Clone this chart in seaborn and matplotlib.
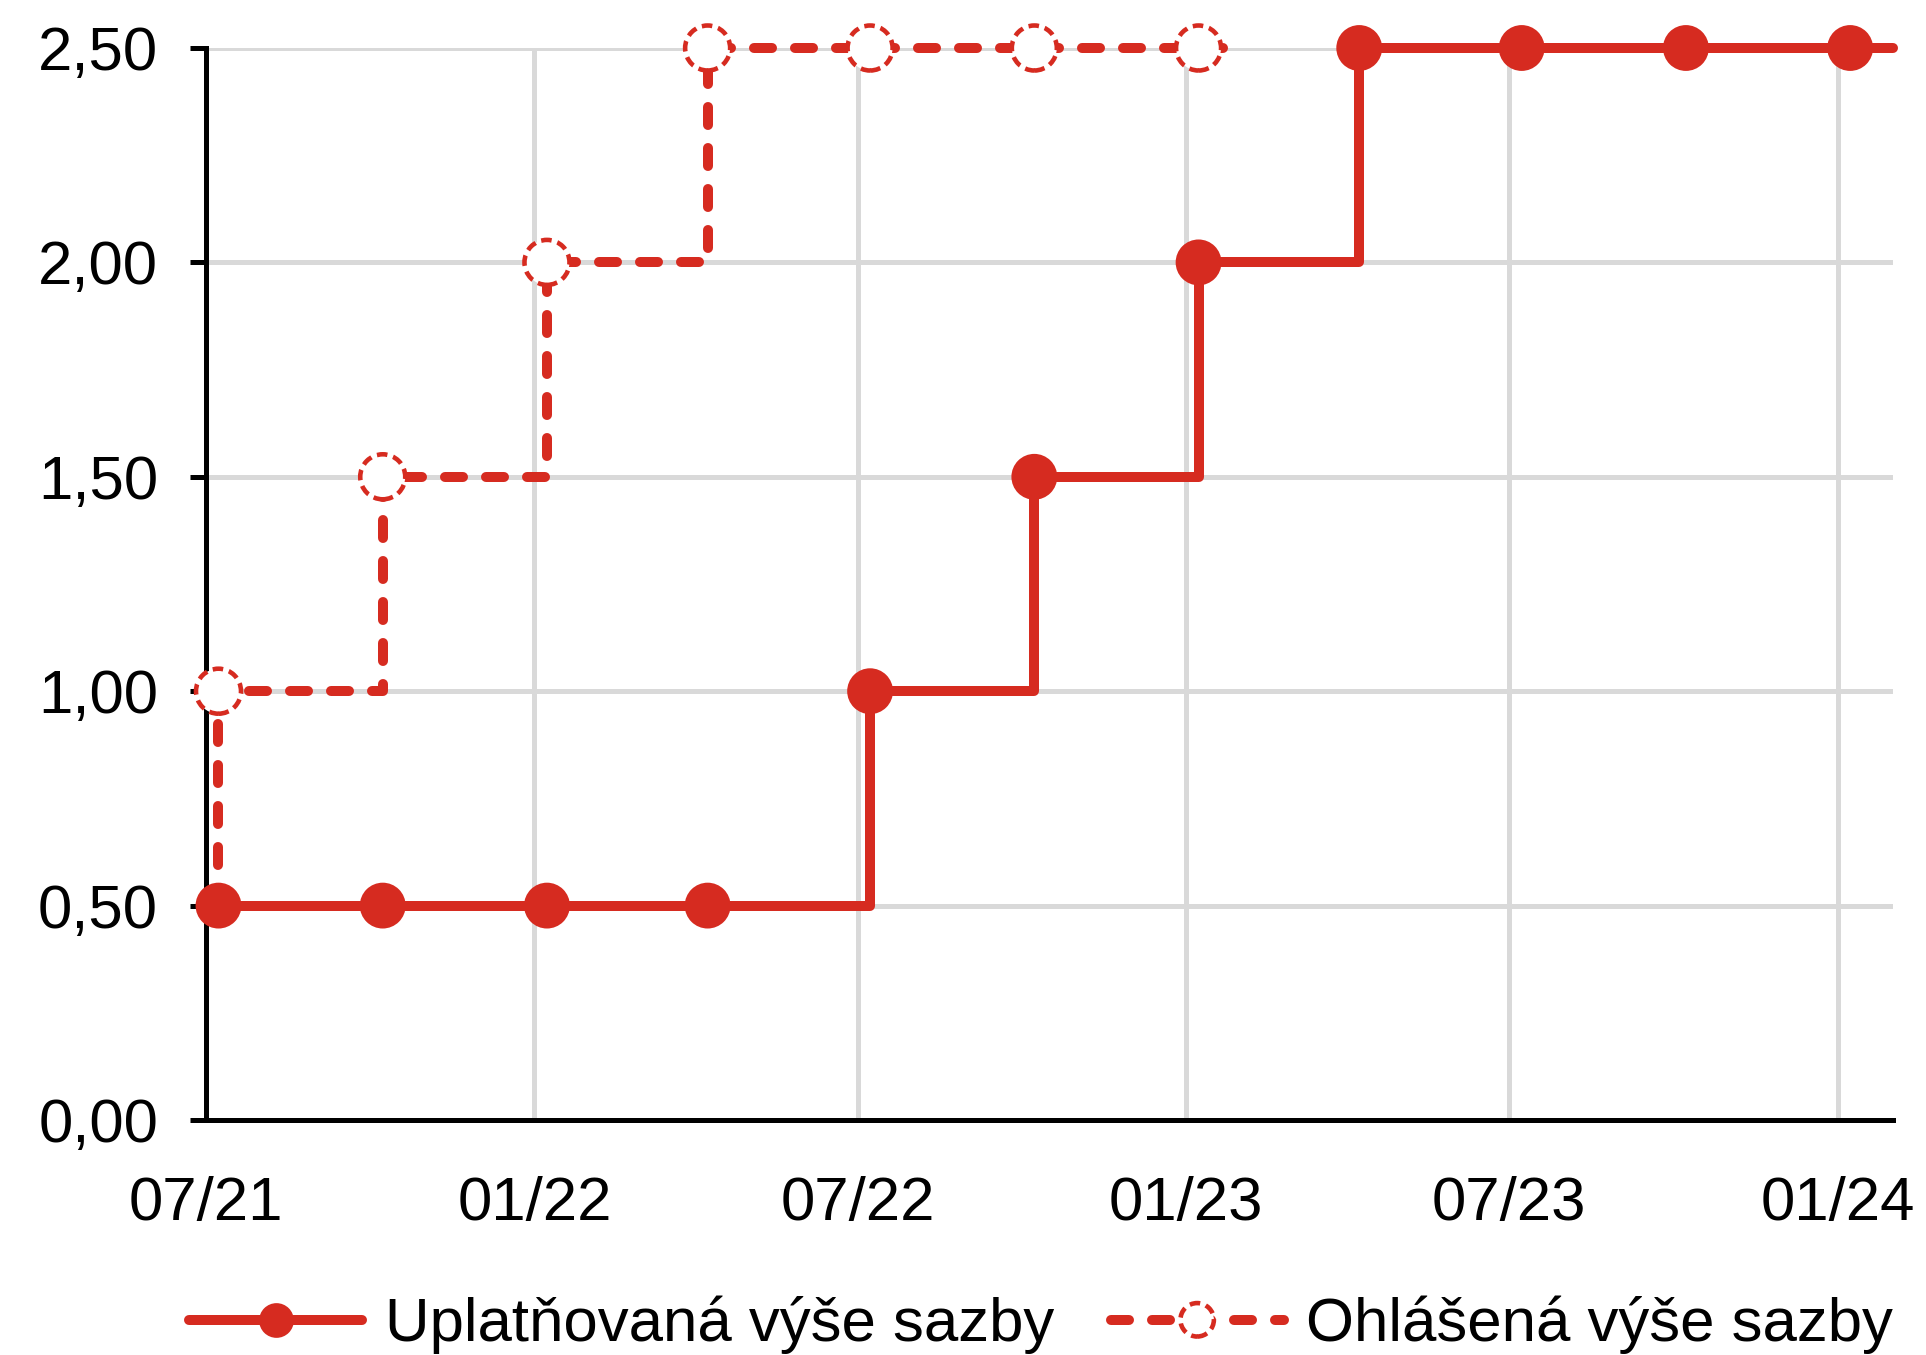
import numpy as np
import pandas as pd
import matplotlib
matplotlib.use("Agg")
import matplotlib.pyplot as plt
import matplotlib.dates as mdates
from matplotlib.lines import Line2D
from matplotlib.legend_handler import HandlerPathCollection
from matplotlib.ticker import FuncFormatter
import seaborn as sns

# Quarterly observation dates
dates = ["2021-07-08", "2021-10-08", "2022-01-08", "2022-04-08",
         "2022-07-08", "2022-10-08", "2023-01-08", "2023-04-08",
         "2023-07-08", "2023-10-08", "2024-01-08"]
# Applied countercyclical buffer rate (%)
applied_rate = [0.50, 0.50, 0.50, 0.50, 1.00, 1.50, 2.00, 2.50, 2.50, 2.50, 2.50]
# Announced rate (%)
announced_dates = dates[:7]
announced_rate = [1.00, 1.50, 2.00, 2.50, 2.50, 2.50, 2.50]
rate_before_announcement = 0.50
announced_until = "2023-02-01"
applied_until = "2024-02-01"

series_labels = ["Uplatňovaná výše sazby", "Ohlášená výše sazby"]
xtick_dates = ["2021-07-01", "2022-01-01", "2022-07-01",
               "2023-01-01", "2023-07-01", "2024-01-01"]
yticks = [0.0, 0.5, 1.0, 1.5, 2.0, 2.5]
x_range = ["2021-07-01", "2024-02-01"]

RED = "#D62B20"
GRID = "#D9D9D9"
LW = 7.2
DASH = (0, (1.8, 2.3))
FS = 44.5

sns.set_style("white")
plt.rcParams["font.family"] = ["Liberation Sans", "DejaVu Sans"]
plt.rcParams["text.color"] = "black"

fig = plt.figure(figsize=(19.26, 13.55), dpi=100)
ax = fig.add_axes([206 / 1926, 1 - 1120 / 1355, (1893 - 206) / 1926, (1120 - 48) / 1355])

# step lines (value holds until the next date)
applied_line = pd.DataFrame({
    "date": pd.to_datetime(dates + [applied_until]),
    "rate": applied_rate + [applied_rate[-1]],
})
announced_line = pd.DataFrame({
    "date": pd.to_datetime([announced_dates[0]] + announced_dates + [announced_until]),
    "rate": [rate_before_announcement] + announced_rate + [announced_rate[-1]],
})

sns.lineplot(data=applied_line, x="date", y="rate", estimator=None, sort=False,
             drawstyle="steps-post", color=RED, linewidth=LW, zorder=4,
             clip_on=False, ax=ax)
sns.lineplot(data=announced_line, x="date", y="rate", estimator=None, sort=False,
             drawstyle="steps-post", color=RED, linewidth=LW, linestyle=DASH,
             dash_capstyle="round", zorder=4, clip_on=False, ax=ax)

# markers
sns.scatterplot(x=pd.to_datetime(dates), y=applied_rate, s=1089, color=RED,
                edgecolor="none", linewidth=0, zorder=5, clip_on=False,
                legend=False, ax=ax)
sns.scatterplot(x=pd.to_datetime(announced_dates), y=announced_rate, s=1050,
                color="white", edgecolor=RED, linewidth=3.3,
                linestyle=(0, (2.3, 1.3)), zorder=5, clip_on=False,
                legend=False, ax=ax)
hollow = ax.collections[-1]

ax.set_xlim(pd.to_datetime(x_range[0]), pd.to_datetime(x_range[1]))
ax.set_ylim(0, 2.5)
ax.set_xticks(pd.to_datetime(xtick_dates))
ax.xaxis.set_major_formatter(mdates.DateFormatter("%m/%y"))
ax.set_yticks(yticks)
ax.yaxis.set_major_formatter(FuncFormatter(lambda v, _: f"{v:.2f}".replace(".", ",")))
ax.set_xlabel("")
ax.set_ylabel("")

ax.set_axisbelow(True)
ax.grid(True, color=GRID, linewidth=3.6)
for side in ["top", "right"]:
    ax.spines[side].set_visible(False)
for side in ["left", "bottom"]:
    ax.spines[side].set_color("black")
    ax.spines[side].set_linewidth(3.6)

ax.tick_params(axis="y", length=11.5, width=3.6, direction="out", pad=23,
               labelsize=FS, colors="black", left=True)
ax.tick_params(axis="x", length=0, pad=40, labelsize=FS, colors="black")

solid_handle = Line2D([], [], color=RED, lw=LW, marker="o", markersize=25,
                      markeredgewidth=0, solid_capstyle="round")
dash_handle = Line2D([], [], color=RED, lw=LW, linestyle=DASH, dash_capstyle="round")
fig.legend([solid_handle, (dash_handle, hollow)], series_labels,
           loc="center", bbox_to_anchor=(0.5405, 0.022), ncol=2, frameon=False,
           handlelength=2.8, handletextpad=0.36, columnspacing=0.92, fontsize=FS,
           labelcolor="black",
           numpoints=1, scatterpoints=1, scatteryoffsets=[0.5], borderpad=0,
           handler_map={hollow: HandlerPathCollection(sizes=[580])})

fig.savefig("out.png", dpi=100)
